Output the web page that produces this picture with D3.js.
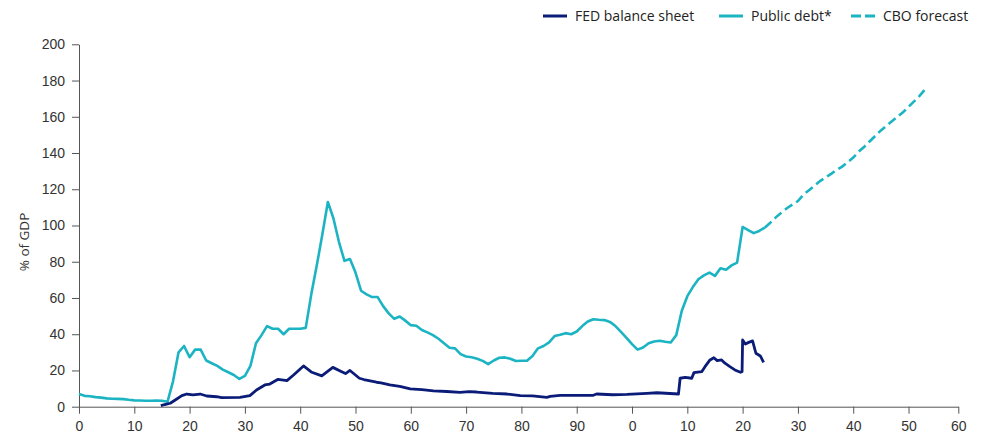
<!DOCTYPE html>
<html>
<head>
<meta charset="utf-8">
<script src="https://cdn.jsdelivr.net/npm/d3@7"></script>
<style>
  body { margin: 0; background: #fff; }
  svg { font-family: "Open Sans", sans-serif; }
  .axis text { fill: #333; font-size: 14px; }
  .axis path, .axis line { stroke: #555; }
</style>
</head>
<body>
<script>
(function(){

//public debt, % of GDP (annual)
var debtYears = d3.range(1900, 2025);
var debtValues = [7.0, 6.0, 5.8, 5.3, 5.0, 4.6, 4.4, 4.3, 4.2, 3.8,
    3.5, 3.4, 3.3, 3.3, 3.4, 3.3, 2.7, 14.0, 30.0, 33.5,
    27.3, 31.5, 31.5, 25.5, 24.0, 22.5, 20.5, 19.0, 17.5, 15.3,
    17.0, 22.5, 35.0, 39.5, 44.5, 43.0, 43.0, 40.0, 43.0, 43.0,
    43.0, 43.5, 62.0, 78.0, 95.0, 113.0, 104.0, 91.0, 80.5, 81.5,
    74.0, 64.0, 62.0, 60.5, 60.5, 55.5, 51.5, 48.5, 49.8, 47.5,
    45.0, 44.7, 42.3, 41.0, 39.5, 37.5, 35.0, 32.5, 32.2, 29.0,
    27.7, 27.3, 26.5, 25.3, 23.5, 25.5, 27.0, 27.2, 26.5, 25.2,
    25.4, 25.4, 28.0, 32.2, 33.5, 35.5, 39.0, 39.7, 40.6, 40.0,
    41.5, 44.5, 47.0, 48.3, 48.0, 47.8, 46.8, 44.5, 41.3, 38.0,
    34.5, 31.5, 32.7, 35.0, 36.0, 36.4, 35.8, 35.4, 39.5, 53.0,
    61.0, 66.0, 70.3, 72.5, 74.0, 72.2, 76.4, 75.6, 78.0, 79.5,
    99.2, 97.5, 95.8, 97.0, 98.8];

//CBO forecast of public debt
var cboYears = d3.range(2024, 2054);
var cboValues = [98.8, 101.5, 104.5, 107.0, 109.5, 111.5, 113.5, 117.0, 119.5, 122.0,
    124.5, 126.5, 128.5, 130.6, 132.5, 135.0, 137.5, 140.8, 143.5, 146.5,
    149.5, 152.5, 155.0, 157.5, 160.0, 162.5, 165.5, 168.5, 171.5, 175.2];

//FED balance sheet, % of GDP
var fedYears = [1914.8, 1915.5, 1916.5, 1917.4, 1918.6, 1919.5, 1920.6, 1921.9, 1923.1, 1924.9,
    1925.8, 1929.1, 1930.9, 1932.1, 1933.6, 1934.5, 1936.0, 1937.6, 1938.8, 1940.6,
    1942.1, 1943.9, 1945.9, 1947.5, 1948.2, 1949.0, 1950.7, 1951.5, 1953.8, 1954.6,
    1956.2, 1958.0, 1959.9, 1962.0, 1964.1, 1966.5, 1968.9, 1970.5, 1971.9, 1974.8,
    1977.4, 1979.8, 1982.0, 1984.6, 1985.2, 1987.0, 1993.0, 1993.6, 1996.5, 1999.1,
    2002.7, 2004.5, 2008.4, 2008.7, 2009.6, 2010.8, 2011.2, 2012.6, 2013.2, 2014.1,
    2014.8, 2015.4, 2016.2, 2016.8, 2017.7, 2018.6, 2019.6, 2019.9, 2020.0, 2020.5,
    2021.1, 2021.8, 2022.4, 2023.2, 2023.8];
var fedValues = [0.6, 1.2, 1.9, 3.7, 6.1, 7.0, 6.5, 7.0, 5.9, 5.5,
    5.0, 5.2, 6.1, 9.2, 12.0, 12.5, 15.1, 14.4, 17.5, 22.5,
    19.0, 17.0, 21.7, 19.3, 18.3, 20.0, 15.7, 15.0, 13.5, 13.2,
    12.0, 11.2, 9.8, 9.4, 8.7, 8.4, 7.9, 8.3, 8.1, 7.3,
    7.0, 6.1, 6.0, 5.2, 5.7, 6.3, 6.3, 7.0, 6.6, 6.8,
    7.4, 7.7, 7.0, 15.7, 16.2, 15.7, 18.8, 19.3, 22.1, 25.8,
    27.0, 25.4, 25.8, 24.0, 22.1, 20.3, 19.0, 19.3, 36.8, 34.6,
    35.5, 36.3, 29.5, 28.0, 24.5];

//axis ticks
var xTickValues = [1900, 1910, 1920, 1930, 1940, 1950, 1960, 1970, 1980, 1990, 2000, 2010, 2020, 2030, 2040, 2050, 2059];
var xTickLabels = ["0", "10", "20", "30", "40", "50", "60", "70", "80", "90", "0", "10", "20", "30", "40", "50", "60"];
var yTicks = d3.range(0, 201, 20);

var legendNames = ["FED balance sheet", "Public debt*", "CBO forecast"];

var navy = "#0b1c78",
    teal = "#1cb4c3";

var width = 989,
    height = 436;

var svg = d3.select("body")
    .append("svg")
    .attr("width", width)
    .attr("height", height);

var x = d3.scaleLinear()
    .domain([1900, 2059])
    .range([79, 958.3]);

var y = d3.scaleLinear()
    .domain([0, 200])
    .range([406.7, 44.3]);

//axes
svg.append("g")
    .attr("class", "axis")
    .attr("transform", "translate(0," + y(0) + ")")
    .call(d3.axisBottom(x)
        .tickValues(xTickValues)
        .tickFormat(function(d, i){ return xTickLabels[i]; })
        .tickSize(7)
        .tickSizeOuter(0)
        .tickPadding(7));

svg.append("g")
    .attr("class", "axis")
    .attr("transform", "translate(" + x(1900) + ",0)")
    .call(d3.axisLeft(y)
        .tickValues(yTicks)
        .tickSize(7)
        .tickSizeOuter(0)
        .tickPadding(7));

svg.append("text")
    .attr("transform", "translate(29,242) rotate(-90)")
    .attr("text-anchor", "middle")
    .attr("fill", "#333")
    .style("font-size", "13.5px")
    .text("% of GDP");

//lines
var line = d3.line()
    .x(function(d){ return x(d[0]); })
    .y(function(d){ return y(d[1]); });

svg.append("path")
    .datum(d3.zip(cboYears, cboValues))
    .attr("fill", "none")
    .attr("stroke", teal)
    .attr("stroke-width", 2.6)
    .attr("stroke-dasharray", "9,4.5")
    .attr("d", line);

svg.append("path")
    .datum(d3.zip(debtYears, debtValues))
    .attr("fill", "none")
    .attr("stroke", teal)
    .attr("stroke-width", 2.6)
    .attr("stroke-linejoin", "round")
    .attr("d", line);

svg.append("path")
    .datum(d3.zip(fedYears, fedValues))
    .attr("fill", "none")
    .attr("stroke", navy)
    .attr("stroke-width", 2.8)
    .attr("stroke-linejoin", "round")
    .attr("d", line);

//legend
var legendX = [543, 719, 851],
    legendColors = [navy, teal, teal],
    legendDash = [null, null, "10,4"];

var legend = svg.selectAll(".legend")
    .data(legendNames)
    .enter()
    .append("g")
    .attr("class", "legend")
    .attr("transform", function(d, i){ return "translate(" + legendX[i] + ",16)"; });

legend.append("line")
    .attr("x1", 0)
    .attr("x2", 24)
    .attr("stroke", function(d, i){ return legendColors[i]; })
    .attr("stroke-width", 3)
    .attr("stroke-dasharray", function(d, i){ return legendDash[i]; });

legend.append("text")
    .attr("x", 32)
    .attr("dy", "0.35em")
    .attr("fill", "#222")
    .style("font-size", "14px")
    .text(function(d){ return d; });

})();
</script>
</body>
</html>
